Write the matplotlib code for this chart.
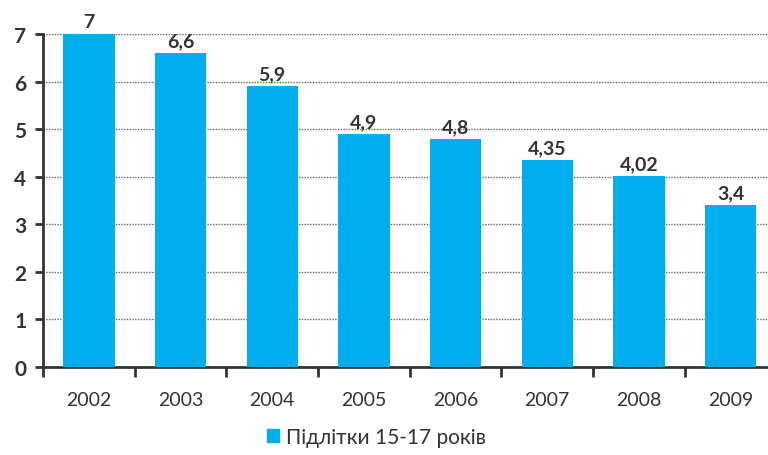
import matplotlib.pyplot as plt
from matplotlib.patches import Patch

years = ['2002', '2003', '2004', '2005', '2006', '2007', '2008', '2009']
values = [7, 6.6, 5.9, 4.9, 4.8, 4.35, 4.02, 3.4]
labels = ['7', '6,6', '5,9', '4,9', '4,8', '4,35', '4,02', '3,4']
series_name = 'Підлітки 15-17 років'

plt.rcParams['font.family'] = ['Lato', 'DejaVu Sans']
text_col = '#333333'
bar_col = '#00aeef'

fig = plt.figure(figsize=(7.68, 4.56), dpi=100)
ax = fig.add_axes([0.056, 0.193, 0.955, 0.730])

x = range(len(years))
ax.bar(x, values, width=0.56, color=bar_col, zorder=3)

for i, (v, t) in enumerate(zip(values, labels)):
    ax.text(i, v + 0.08, t, ha='center', va='bottom', fontsize=14,
            fontweight='bold', color=text_col, zorder=4)

ax.set_xlim(-0.5, len(years) - 0.5)
ax.set_ylim(0, 7)
ax.set_yticks(range(8))
ax.set_yticklabels([str(i) for i in range(8)], fontsize=15, fontweight='bold', color=text_col)
ax.set_xticks(list(x))
ax.set_xticklabels(years, fontsize=14, color=text_col)
ax.tick_params(axis='x', length=0, pad=17)
ax.tick_params(axis='y', length=6, width=2, color='#333333', pad=6, direction='out')

# category separators below the x axis
ax.set_xticks([i - 0.5 for i in range(len(years) + 1)], minor=True)
ax.tick_params(axis='x', which='minor', length=7, width=2, color='#333333', direction='out')

ax.yaxis.grid(True, linestyle=(0, (1, 1)), color='#666666', linewidth=1, zorder=0)
for s in ['top', 'right']:
    ax.spines[s].set_visible(False)
for s in ['left', 'bottom']:
    ax.spines[s].set_linewidth(2)
    ax.spines[s].set_color('#333333')

fig.legend(handles=[Patch(color=bar_col, label=series_name)], loc='center',
           bbox_to_anchor=(0.49, 0.04), frameon=False, fontsize=15,
           handlelength=0.6, handleheight=0.6, handletextpad=0.3,
           labelcolor=text_col)

fig.savefig('out.png', dpi=100)
